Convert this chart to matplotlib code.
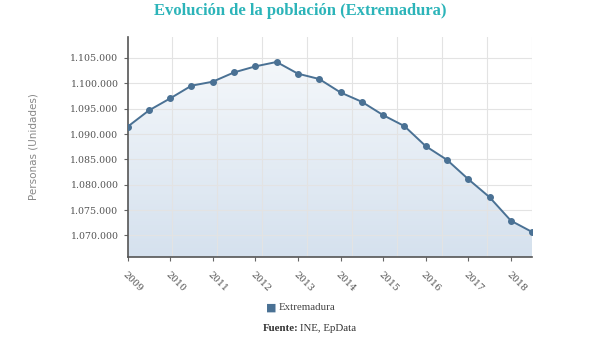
import numpy as np
import matplotlib
matplotlib.use("Agg")
import matplotlib.pyplot as plt
from matplotlib.patches import Polygon

# data (semiannual estimates)
fechas = np.arange(2009.0, 2019.0, 0.5)
poblacion = [1091420, 1094640, 1097020, 1099530, 1100320, 1102150, 1103340, 1104210,
             1101900, 1100850, 1098200, 1096360, 1093730, 1091560, 1087610, 1084900,
             1081090, 1077530, 1072900, 1070670]
anios = list(range(2009, 2019))
yticks = list(range(1070000, 1105001, 5000))

def miles(v):
    return f"{v:,}".replace(",", ".")

linea = "#4a7194"
serif = ["Liberation Serif", "DejaVu Serif"]
serif2 = ["DejaVu Serif"]

fig = plt.figure(figsize=(6, 3.38), dpi=100)
ax = fig.add_axes([0.2125, 0.239, 0.6745, 0.651])
ax.set_xlim(2009.0, 2018.5)
ax.set_ylim(1065700, 1109100)

# gradient fill under the line
grad = np.linspace(0, 1, 256).reshape(-1, 1)
cmap = matplotlib.colors.LinearSegmentedColormap.from_list("g", ["#d5e1ee", "#f8fafc"])
img = ax.imshow(grad, cmap=cmap, aspect="auto", origin="lower",
                extent=[2009.0, 2018.5, 1065700, 1109100], zorder=1)
verts = [(fechas[0], 1065700)] + list(zip(fechas, poblacion)) + [(fechas[-1], 1065700)]
poly = Polygon(verts, closed=True, facecolor="none", edgecolor="none")
ax.add_patch(poly)
img.set_clip_path(poly)

ax.plot(fechas, poblacion, color=linea, lw=1.4, marker="o", ms=4.0, zorder=3)

# grid: horizontal at ticks, vertical in equal divisions
for v in yticks:
    ax.axhline(v, color="#e3e3e3", lw=0.8, zorder=2)
for gx in np.linspace(2009.0, 2018.5, 10)[1:]:
    ax.axvline(gx, color="#e3e3e3", lw=0.8, zorder=2)

ax.set_yticks(yticks)
ax.set_yticklabels([miles(v) for v in yticks], fontsize=6.8, color="#555555", family=serif2)
ax.set_xticks(anios)
ax.set_xticklabels([str(a) for a in anios], rotation=-45, ha="left", va="top",
                   rotation_mode="anchor", fontsize=6.8, color="#555555", family=serif2)
ax.tick_params(axis="both", length=3, color="#666666", width=0.8)
ax.tick_params(axis="x", pad=6)

for s in ["top", "right"]:
    ax.spines[s].set_visible(False)
for s in ["left", "bottom"]:
    ax.spines[s].set_color("#555555")
    ax.spines[s].set_linewidth(1.2)

fig.text(0.055, 0.565, "Personas (Unidades)", rotation=90, ha="center", va="center",
         fontsize=7.5, color="#888888")

fig.text(0.5, 0.968, "Evolución de la población (Extremadura)", ha="center", va="center",
         fontsize=12, fontweight="bold", color="#2cb4b9", family=serif)

# legend
fig.text(0.452, 0.089, "■", ha="center", va="center", fontsize=8, color=linea)
fig.text(0.465, 0.089, "Extremadura", ha="left", va="center", fontsize=7.8,
         color="#444444", family=serif)

fig.text(0.497, 0.027, "Fuente:", ha="right", va="center", fontsize=7.8,
         fontweight="bold", color="#333333", family=serif)
fig.text(0.5, 0.027, "INE, EpData", ha="left", va="center", fontsize=7.8,
         color="#333333", family=serif)

fig.savefig("out.png", dpi=100)
